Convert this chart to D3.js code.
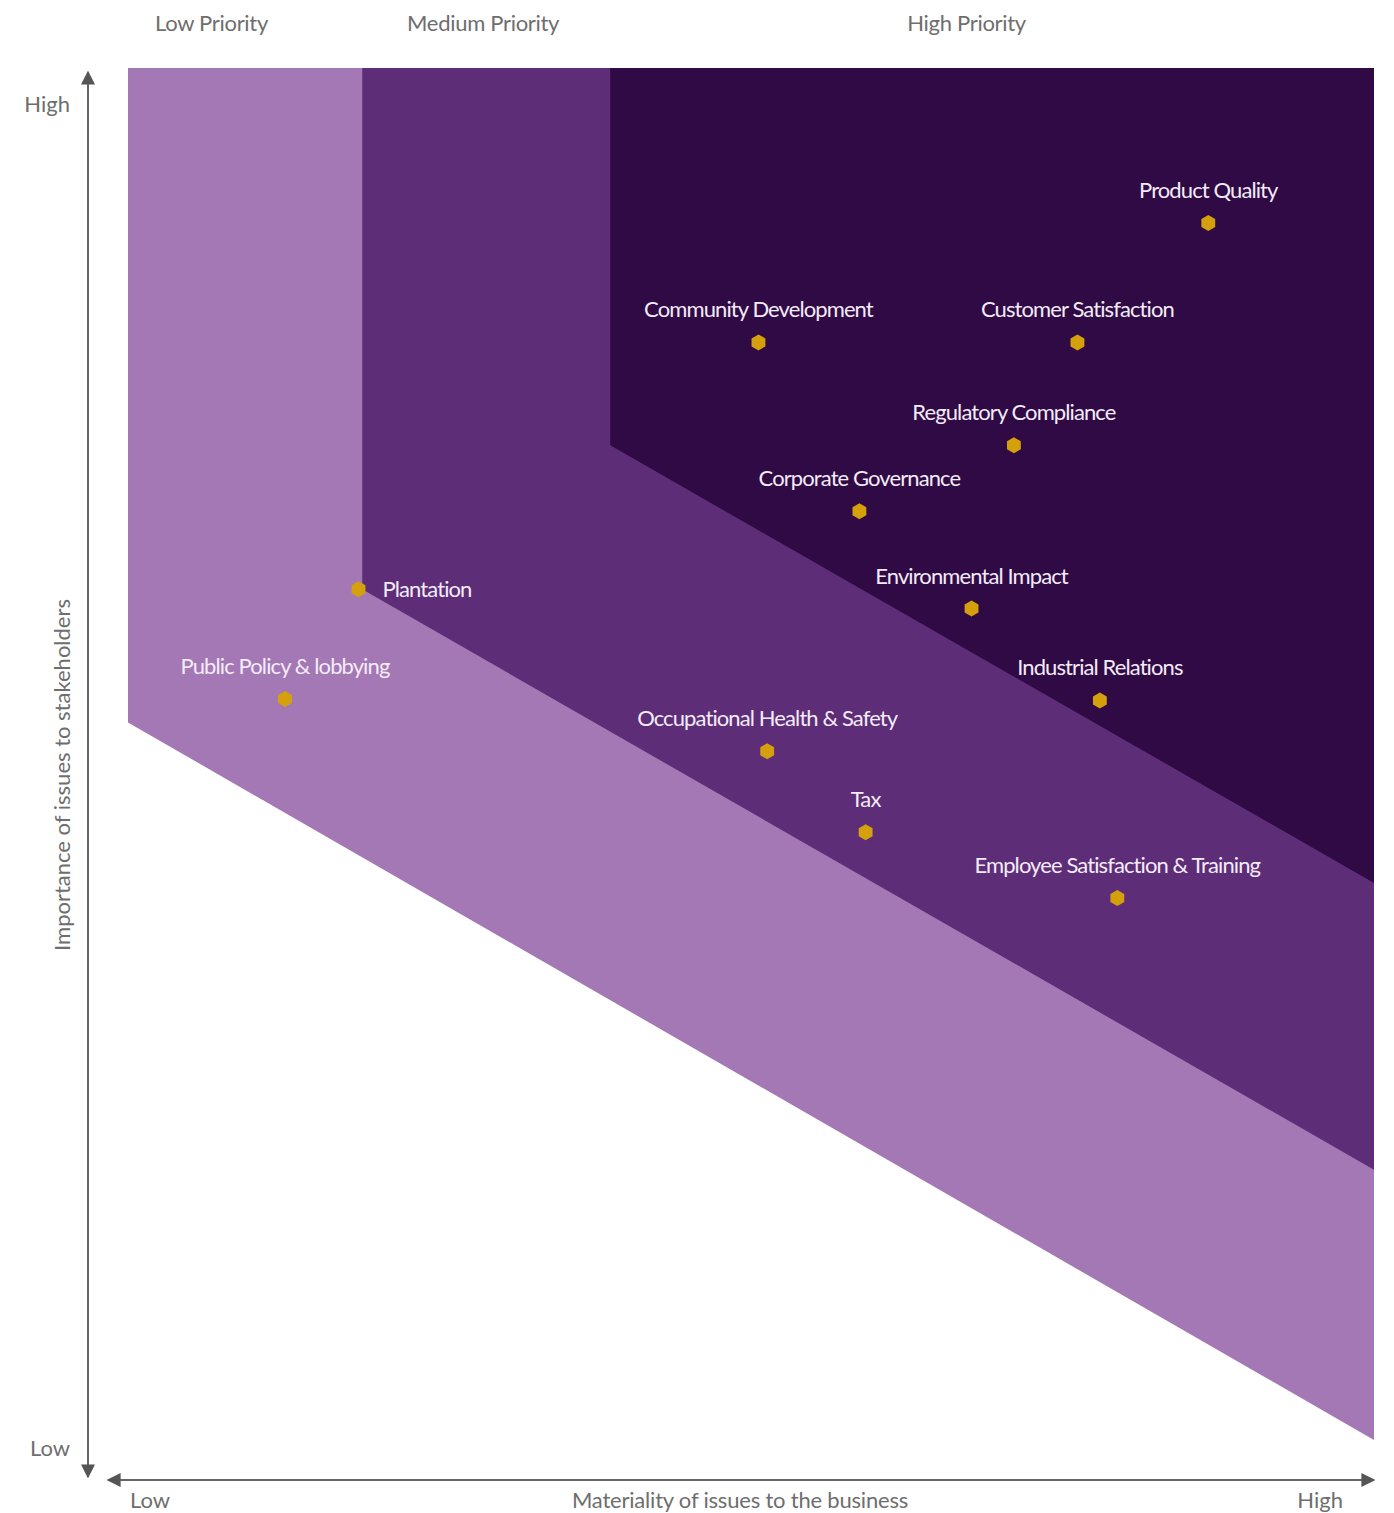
<!DOCTYPE html>
<html>
<head>
<meta charset="utf-8">
<script src="https://cdn.jsdelivr.net/npm/d3@7"></script>
<style>
  body { margin: 0; background: #fff; }
  text { font-family: Lato, "Open Sans", sans-serif; }
</style>
</head>
<body>
<div id="chart"></div>
<script>
var width = 1394, height = 1513;

var greyColor = "#6e6e6e";
var lightBand = "#a378b5";
var midBand = "#5e2d77";
var darkBand = "#300a45";
var dotColor = "#d4a00c";

// issues (x = materiality to business, y = importance to stakeholders), 0..100
var issues = ["Product Quality", "Community Development", "Customer Satisfaction",
    "Regulatory Compliance", "Corporate Governance", "Environmental Impact",
    "Industrial Relations", "Occupational Health & Safety", "Tax",
    "Employee Satisfaction & Training", "Plantation", "Public Policy & lobbying"];
var materiality = [86.7, 50.6, 76.2, 71.1, 58.7, 67.7, 78.0, 51.3, 59.2, 79.4, 18.5, 12.6];
var importance  = [88.7, 80.0, 80.0, 72.5, 67.7, 60.6, 53.9, 50.2, 44.3, 39.5, 62.0, 54.0];

// priority zones: left edge x, y where the zone leaves the left edge, y at right edge
var zones = ["Low Priority", "Medium Priority", "High Priority"];
var zoneStartX = [0, 18.8, 38.7];
var zoneLeftY = [52.3, 62.0, 72.5];
var zoneRightY = [0, 19.7, 40.6];
var zoneLabelX = [6.7, 28.5, 67.3];

var axisLabels = ["Low", "High"];

var x = d3.scaleLinear().domain([0, 100]).range([128, 1374]);
var y = d3.scaleLinear().domain([0, 100]).range([1440, 68]);

var svg = d3.select("#chart").append("svg")
    .attr("width", width)
    .attr("height", height);

var defs = svg.append("defs");
defs.append("marker")
    .attr("id", "arrow")
    .attr("viewBox", "0 0 10 10")
    .attr("refX", 9).attr("refY", 5)
    .attr("markerWidth", 7).attr("markerHeight", 7)
    .attr("markerUnits", "strokeWidth")
    .attr("orient", "auto-start-reverse")
    .append("path")
    .attr("d", "M0,0 L10,5 L0,10 Z")
    .attr("fill", "#555");

// bands
var zoneColors = [lightBand, midBand, darkBand];
svg.selectAll(".zone")
    .data(zones)
    .enter().append("path")
    .attr("class", "zone")
    .attr("fill", (d, i) => zoneColors[i])
    .attr("d", (d, i) => {
        var pts = [[zoneStartX[i], 100], [100, 100], [100, zoneRightY[i]], [zoneStartX[i], zoneLeftY[i]]];
        return d3.line().x(p => x(p[0])).y(p => y(p[1]))(pts) + "Z";
    });

// axes lines
svg.append("line")
    .attr("x1", 88).attr("x2", 88)
    .attr("y1", 72).attr("y2", 1477)
    .attr("stroke", "#666").attr("stroke-width", 2)
    .attr("marker-start", "url(#arrow)")
    .attr("marker-end", "url(#arrow)");
svg.append("line")
    .attr("x1", 108).attr("x2", x(100))
    .attr("y1", 1480).attr("y2", 1480)
    .attr("stroke", "#666").attr("stroke-width", 2)
    .attr("marker-start", "url(#arrow)")
    .attr("marker-end", "url(#arrow)");

// zone headers
svg.selectAll(".zoneLabel")
    .data(zones)
    .enter().append("text")
    .attr("class", "zoneLabel")
    .attr("x", (d, i) => x(zoneLabelX[i]))
    .attr("y", 31)
    .attr("text-anchor", "middle")
    .attr("font-size", 22)
    .attr("letter-spacing", "-0.3px")
    .attr("fill", greyColor)
    .text(d => d);

// y labels
svg.append("text")
    .attr("x", 70).attr("y", 112)
    .attr("text-anchor", "end")
    .attr("font-size", 22).attr("fill", greyColor)
    .text(axisLabels[1]);
svg.append("text")
    .attr("x", 70).attr("y", 1456)
    .attr("text-anchor", "end")
    .attr("font-size", 22).attr("fill", greyColor)
    .text(axisLabels[0]);
svg.append("text")
    .attr("transform", "translate(70,775) rotate(-90)")
    .attr("text-anchor", "middle")
    .attr("font-size", 22).attr("fill", greyColor)
    .text("Importance of issues to stakeholders");

// x labels
svg.append("text")
    .attr("x", 130).attr("y", 1508)
    .attr("font-size", 22).attr("fill", greyColor)
    .text(axisLabels[0]);
svg.append("text")
    .attr("x", 1343).attr("y", 1508)
    .attr("text-anchor", "end")
    .attr("font-size", 22).attr("fill", greyColor)
    .text(axisLabels[1]);
svg.append("text")
    .attr("x", 740).attr("y", 1508)
    .attr("text-anchor", "middle")
    .attr("font-size", 22).attr("letter-spacing", "-0.2px").attr("fill", greyColor)
    .text("Materiality of issues to the business");

// hexagon dots
var hex = d3.range(6).map(k => {
    var a = Math.PI / 3 * k - Math.PI / 2;
    return [Math.cos(a) * 8, Math.sin(a) * 8];
});
var hexPath = "M" + hex.map(p => p.join(",")).join("L") + "Z";

svg.selectAll(".dot")
    .data(issues)
    .enter().append("path")
    .attr("class", "dot")
    .attr("d", hexPath)
    .attr("fill", dotColor)
    .attr("transform", (d, i) => "translate(" + x(materiality[i]) + "," + y(importance[i]) + ")");

svg.selectAll(".label")
    .data(issues)
    .enter().append("text")
    .attr("class", "label")
    .attr("x", (d, i) => d === "Plantation" ? x(materiality[i]) + 24 : x(materiality[i]))
    .attr("y", (d, i) => d === "Plantation" ? y(importance[i]) + 8 : y(importance[i]) - 25)
    .attr("text-anchor", d => d === "Plantation" ? "start" : "middle")
    .attr("font-size", 22)
    .attr("letter-spacing", "-0.9px")
    .attr("fill", "#f3ecf7")
    .text(d => d);
</script>
</body>
</html>
